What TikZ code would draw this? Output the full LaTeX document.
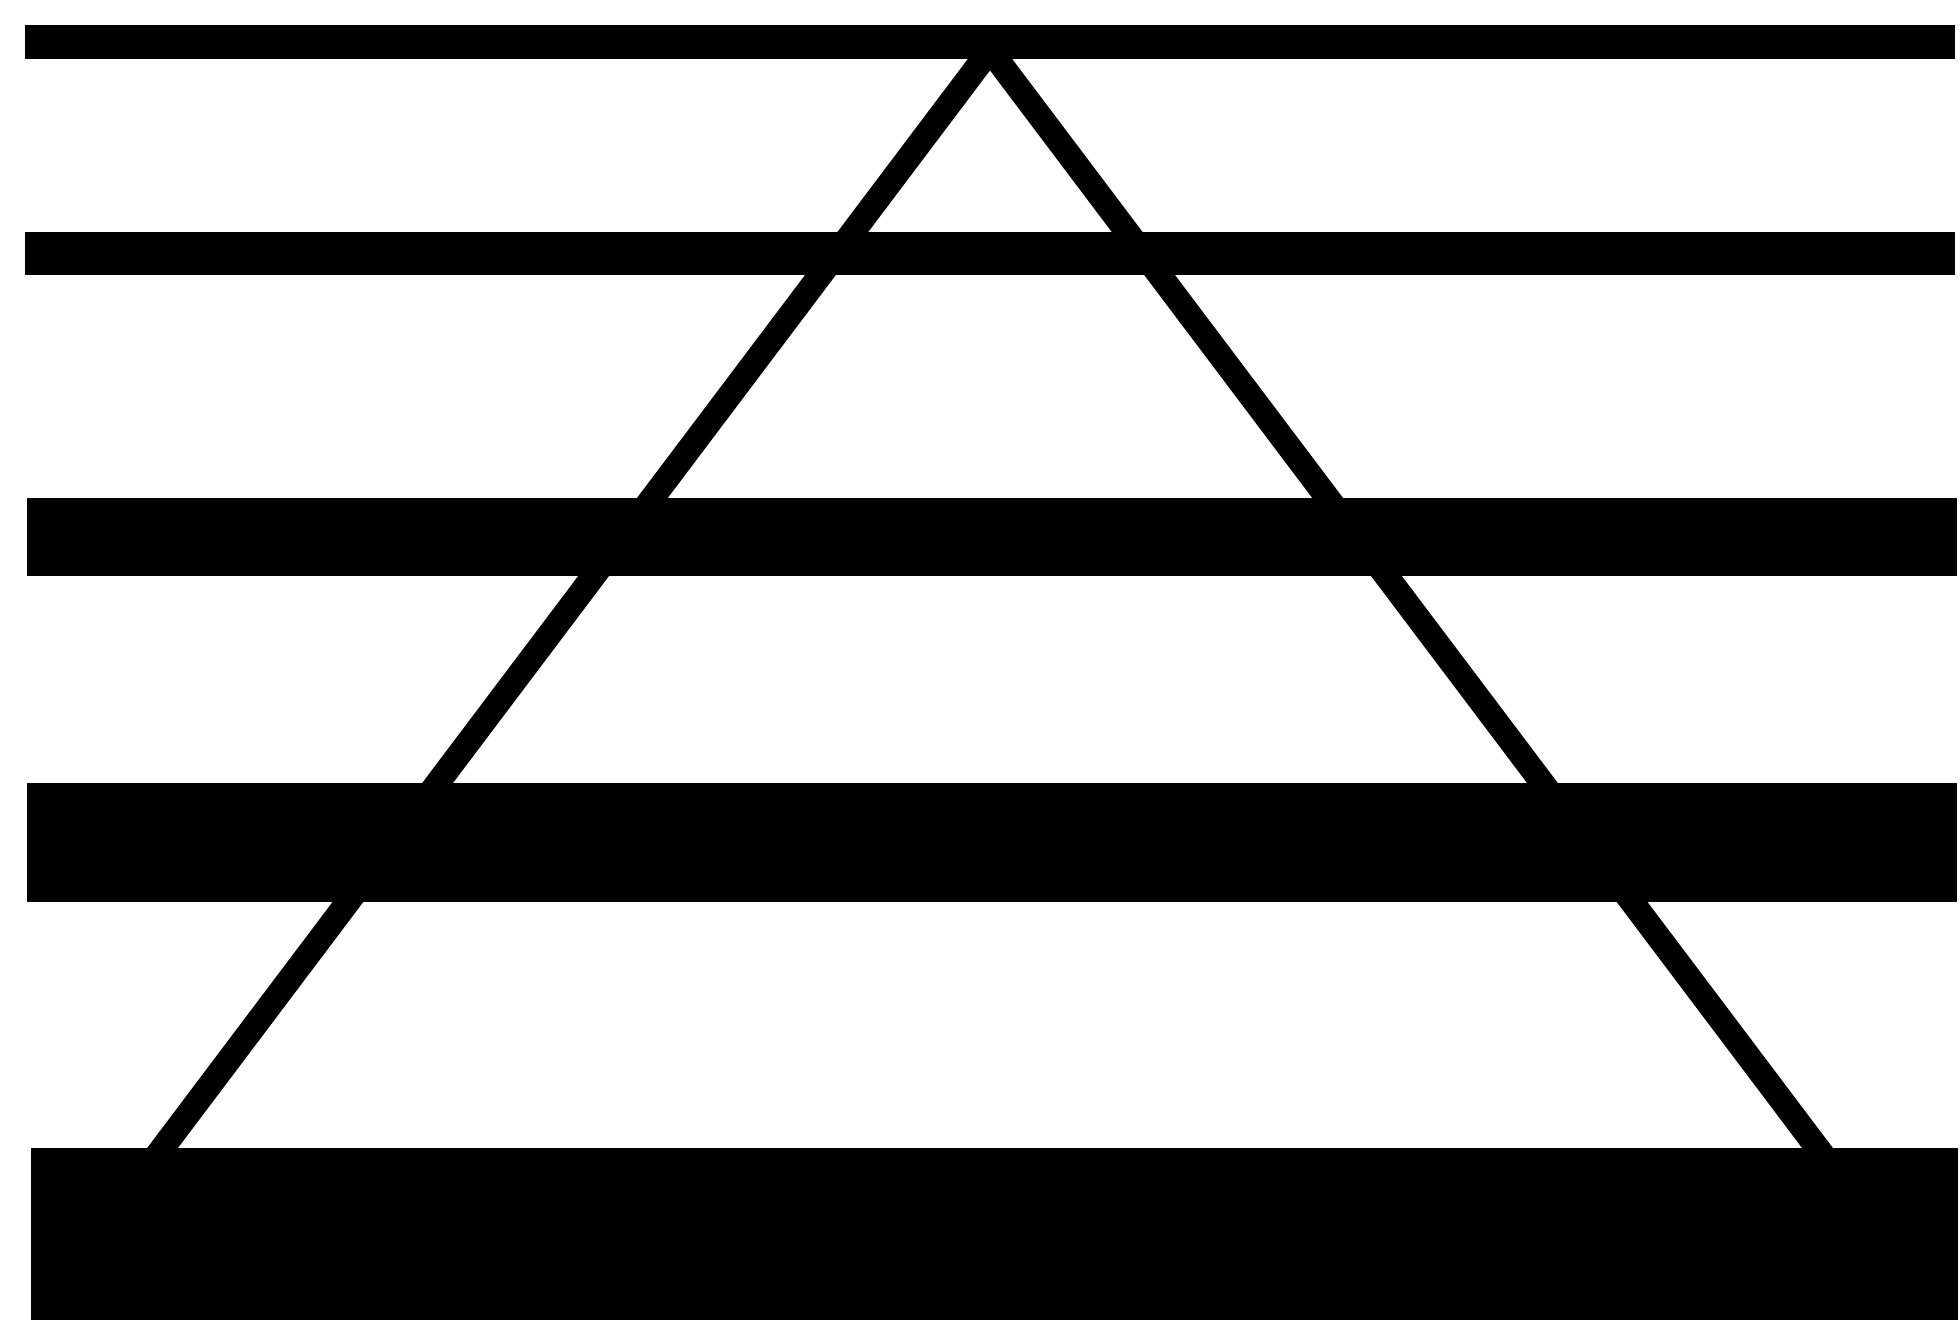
\documentclass[tikz,border=0pt]{standalone}
\begin{document}
\begin{tikzpicture}[x=1cm,y=1cm,line width=.6pt]
  \useasboundingbox (0,0) rectangle (19.6,13.2);
  \fill[black] (.25,12.61) rectangle (19.55,12.95);
  \fill[black] (.25,10.45) rectangle (19.55,10.88);
  \fill[black] (.27,7.44) rectangle (19.57,8.22);
  \fill[black] (.27,4.18) rectangle (19.57,5.37);
  \fill[black] (.31,0) rectangle (19.58,1.72);
  \coordinate (top) at (9.90,12.70);
  \coordinate (bl) at (1.55,1.62);
  \coordinate (br) at (18.25,1.62);
  \draw[line width=7pt] (bl)--(top)--(br);
\end{tikzpicture}
\end{document}
